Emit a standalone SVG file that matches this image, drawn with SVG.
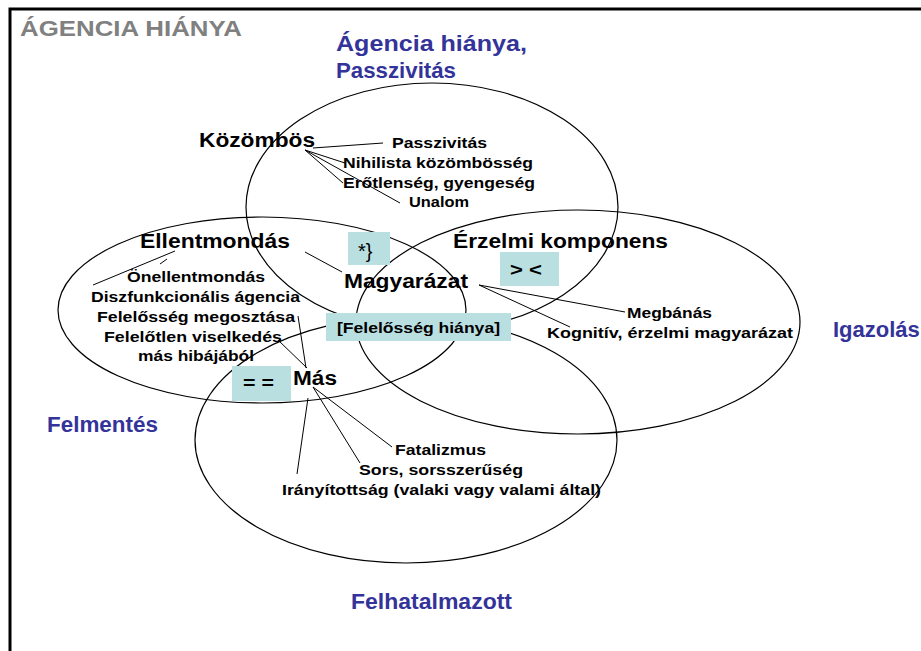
<svg xmlns="http://www.w3.org/2000/svg" width="921" height="651" viewBox="0 0 921 651">
<defs>
<style>
.ell{fill:none;stroke:#000;stroke-width:1.2}
.con line{stroke:#000;stroke-width:1}
.t{font-family:"Liberation Sans",Arial,sans-serif;font-weight:bold;fill:#000}
.s{font-size:15.5px}
.n{font-size:20px}
.b{font-size:22px;fill:#333399}
.box{fill:#B9DFE1}
</style>
</defs>
<rect width="921" height="651" fill="#fff"/>
<rect x="10" y="9" width="1000" height="1000" fill="none" stroke="#000" stroke-width="3"/>
<text class="t" x="20" y="36" font-size="22" style="fill:#808080" textLength="222" lengthAdjust="spacingAndGlyphs">ÁGENCIA HIÁNYA</text>
<g id="ellipses">
<ellipse class="ell" cx="432" cy="207" rx="186" ry="124"/>
<ellipse class="ell" cx="262" cy="310" rx="204" ry="93"/>
<ellipse class="ell" cx="578" cy="322" rx="222" ry="112"/>
<ellipse class="ell" cx="406" cy="440" rx="211" ry="123"/>
</g>
<g id="labels-outer">
<text class="t b" x="336" y="51" textLength="191" lengthAdjust="spacingAndGlyphs">Ágencia hiánya,</text>
<text class="t b" x="336" y="78" textLength="120" lengthAdjust="spacingAndGlyphs">Passzivitás</text>
<text class="t b" x="47" y="432" textLength="111" lengthAdjust="spacingAndGlyphs">Felmentés</text>
<text class="t b" x="833" y="337">Igazolás</text>
<text class="t b" x="351" y="609" textLength="161" lengthAdjust="spacingAndGlyphs">Felhatalmazott</text>
</g>
<g id="connectors" class="con">
<line x1="313" y1="148" x2="383" y2="143"/>
<line x1="305" y1="150" x2="345" y2="163"/>
<line x1="305" y1="150" x2="343" y2="183"/>
<line x1="305" y1="150" x2="400" y2="203"/>
<line x1="175" y1="251" x2="93" y2="285"/>
<line x1="167" y1="259" x2="160" y2="264"/>
<line x1="305" y1="252" x2="342" y2="272"/>
<line x1="298" y1="316" x2="306" y2="368"/>
<line x1="278" y1="340" x2="307" y2="368"/>
<line x1="313" y1="387" x2="392" y2="447"/>
<line x1="313" y1="387" x2="360" y2="463"/>
<line x1="308" y1="398" x2="297" y2="474"/>
<line x1="479" y1="285" x2="625" y2="312"/>
<line x1="479" y1="285" x2="570" y2="327"/>
</g>
<g id="kozombos">
<text class="t n" x="199" y="147" textLength="116" lengthAdjust="spacingAndGlyphs">Közömbös</text>
<text class="t s" x="392" y="148" textLength="95" lengthAdjust="spacingAndGlyphs">Passzivitás</text>
<text class="t s" x="343" y="168" textLength="190" lengthAdjust="spacingAndGlyphs">Nihilista közömbösség</text>
<text class="t s" x="343" y="188" textLength="192" lengthAdjust="spacingAndGlyphs">Erőtlenség, gyengeség</text>
<text class="t s" x="409" y="207" textLength="60" lengthAdjust="spacingAndGlyphs">Unalom</text>
</g>
<g id="ellentmondas">
<text class="t n" x="140" y="248" textLength="150" lengthAdjust="spacingAndGlyphs">Ellentmondás</text>
<text class="t s" x="127" y="282" textLength="138" lengthAdjust="spacingAndGlyphs">Önellentmondás</text>
<text class="t s" x="91" y="302" textLength="209" lengthAdjust="spacingAndGlyphs">Diszfunkcionális ágencia</text>
<text class="t s" x="97" y="322" textLength="198" lengthAdjust="spacingAndGlyphs">Felelősség megosztása</text>
<text class="t s" x="104" y="342" textLength="178" lengthAdjust="spacingAndGlyphs">Felelőtlen viselkedés</text>
<text class="t s" x="138" y="361" textLength="116" lengthAdjust="spacingAndGlyphs">más hibájából</text>
</g>
<g id="box-star">
<rect class="box" x="348" y="232" width="42" height="33"/>
<text x="358" y="258" font-family="Liberation Sans,Arial,sans-serif" font-size="20">*}</text>
</g>
<g id="magyarazat">
<text class="t n" x="344" y="288" textLength="124" lengthAdjust="spacingAndGlyphs">Magyarázat</text>
</g>
<g id="box-gtlt">
<rect class="box" x="500" y="252" width="59" height="34"/>
<text class="t" x="510" y="276" font-size="19" textLength="32" lengthAdjust="spacingAndGlyphs">&gt; &lt;</text>
</g>
<g id="erzelmi">
<text class="t n" x="453" y="248" textLength="215" lengthAdjust="spacingAndGlyphs">Érzelmi komponens</text>
<text class="t s" x="627" y="318" textLength="85" lengthAdjust="spacingAndGlyphs">Megbánás</text>
<text class="t s" x="547" y="338" textLength="246" lengthAdjust="spacingAndGlyphs">Kognitív, érzelmi magyarázat</text>
</g>
<g id="felelosseg">
<rect class="box" x="326" y="313" width="185" height="28"/>
<text class="t" x="337" y="333" font-size="15.5" textLength="163" lengthAdjust="spacingAndGlyphs">[Felelősség hiánya]</text>
</g>
<g id="box-eq">
<rect class="box" x="232" y="366" width="59" height="35"/>
<text class="t" x="243" y="389" font-size="19" textLength="31" lengthAdjust="spacingAndGlyphs">= =</text>
</g>
<g id="mas">
<text class="t n" x="293" y="385" textLength="44" lengthAdjust="spacingAndGlyphs">Más</text>
<text class="t s" x="395" y="455" textLength="91" lengthAdjust="spacingAndGlyphs">Fatalizmus</text>
<text class="t s" x="359" y="475" textLength="164" lengthAdjust="spacingAndGlyphs">Sors, sorsszerűség</text>
<text class="t s" x="282" y="495" textLength="319" lengthAdjust="spacingAndGlyphs">Irányítottság (valaki vagy valami által)</text>
</g>
</svg>
